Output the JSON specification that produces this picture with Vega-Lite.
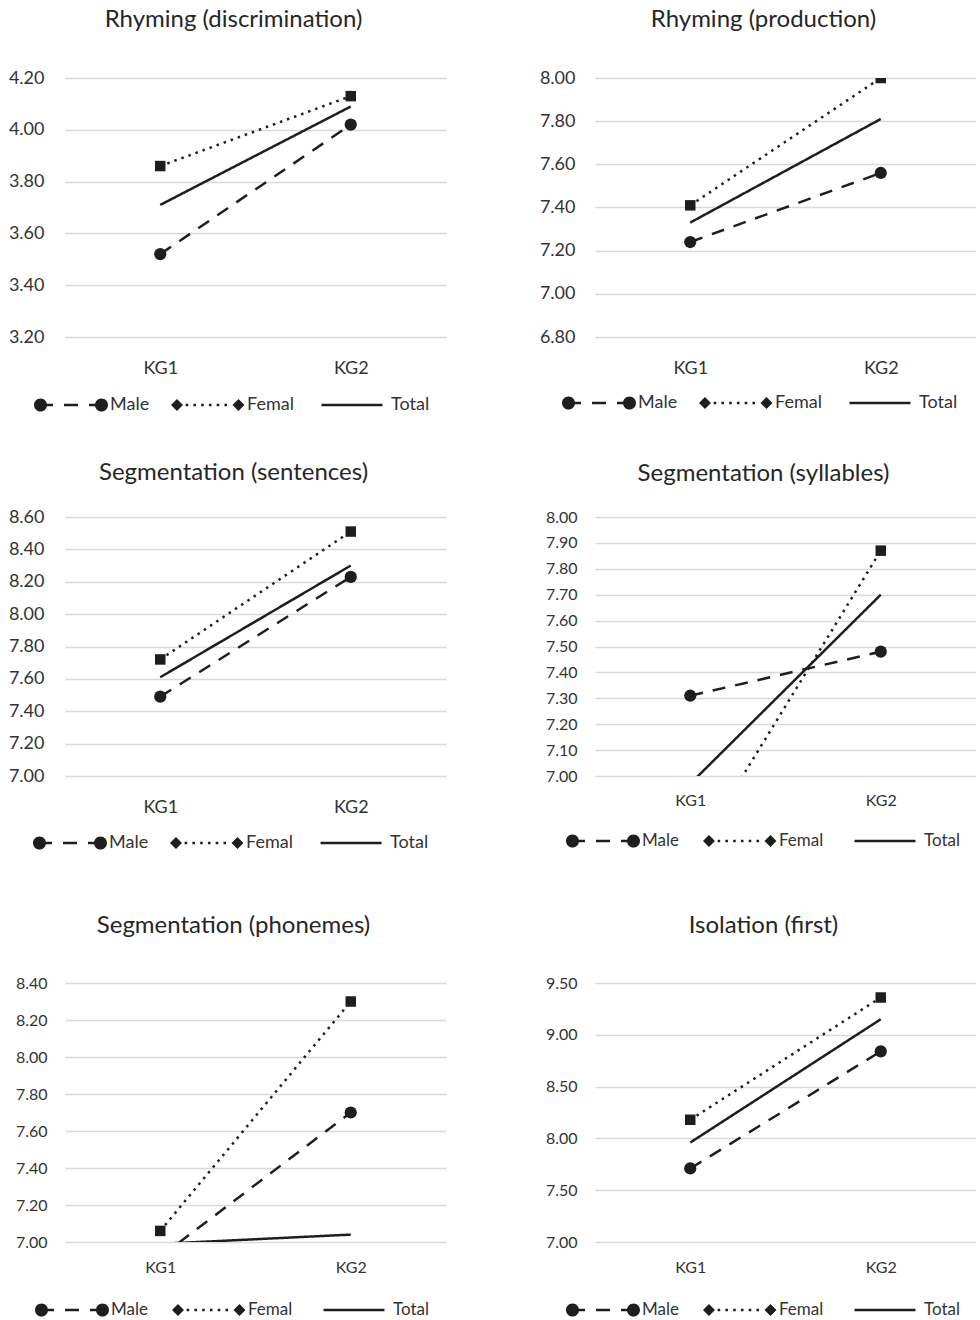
{
  "$schema": "https://vega.github.io/schema/vega-lite/v6.json",
  "padding": {"left": 8, "top": 8, "right": 0, "bottom": 0},
  "background": "white",
  "config": {
    "view": {"stroke": null},
    "font": "Lato",
    "title": {"font": "Lato", "fontSize": 24, "fontWeight": "normal", "color": "#262626", "baseline": "alphabetic", "dx": -22},
    "axis": {"labelFont": "Lato", "labelColor": "#333333", "gridColor": "#d9d9d9", "gridWidth": 1.3, "domain": false, "ticks": false, "title": null},
    "legend": {"labelFont": "Lato", "labelColor": "#333333"}
  },
  "datasets": {
    "d": [
      {"panel": "Rhyming (discrimination)", "grade": "KG1", "series": "Male", "value": 3.52},
      {"panel": "Rhyming (discrimination)", "grade": "KG2", "series": "Male", "value": 4.02},
      {"panel": "Rhyming (discrimination)", "grade": "KG1", "series": "Femal", "value": 3.86},
      {"panel": "Rhyming (discrimination)", "grade": "KG2", "series": "Femal", "value": 4.13},
      {"panel": "Rhyming (discrimination)", "grade": "KG1", "series": "Total", "value": 3.71},
      {"panel": "Rhyming (discrimination)", "grade": "KG2", "series": "Total", "value": 4.09},
      {"panel": "Rhyming (production)", "grade": "KG1", "series": "Male", "value": 7.24},
      {"panel": "Rhyming (production)", "grade": "KG2", "series": "Male", "value": 7.56},
      {"panel": "Rhyming (production)", "grade": "KG1", "series": "Femal", "value": 7.41},
      {"panel": "Rhyming (production)", "grade": "KG2", "series": "Femal", "value": 8.0},
      {"panel": "Rhyming (production)", "grade": "KG1", "series": "Total", "value": 7.33},
      {"panel": "Rhyming (production)", "grade": "KG2", "series": "Total", "value": 7.81},
      {"panel": "Segmentation (sentences)", "grade": "KG1", "series": "Male", "value": 7.49},
      {"panel": "Segmentation (sentences)", "grade": "KG2", "series": "Male", "value": 8.23},
      {"panel": "Segmentation (sentences)", "grade": "KG1", "series": "Femal", "value": 7.72},
      {"panel": "Segmentation (sentences)", "grade": "KG2", "series": "Femal", "value": 8.51},
      {"panel": "Segmentation (sentences)", "grade": "KG1", "series": "Total", "value": 7.61},
      {"panel": "Segmentation (sentences)", "grade": "KG2", "series": "Total", "value": 8.3},
      {"panel": "Segmentation (syllables)", "grade": "KG1", "series": "Male", "value": 7.31},
      {"panel": "Segmentation (syllables)", "grade": "KG2", "series": "Male", "value": 7.48},
      {"panel": "Segmentation (syllables)", "grade": "KG1", "series": "Femal", "value": 6.67},
      {"panel": "Segmentation (syllables)", "grade": "KG2", "series": "Femal", "value": 7.87},
      {"panel": "Segmentation (syllables)", "grade": "KG1", "series": "Total", "value": 6.97},
      {"panel": "Segmentation (syllables)", "grade": "KG2", "series": "Total", "value": 7.7},
      {"panel": "Segmentation (phonemes)", "grade": "KG1", "series": "Male", "value": 6.92},
      {"panel": "Segmentation (phonemes)", "grade": "KG2", "series": "Male", "value": 7.7},
      {"panel": "Segmentation (phonemes)", "grade": "KG1", "series": "Femal", "value": 7.06},
      {"panel": "Segmentation (phonemes)", "grade": "KG2", "series": "Femal", "value": 8.3},
      {"panel": "Segmentation (phonemes)", "grade": "KG1", "series": "Total", "value": 6.99},
      {"panel": "Segmentation (phonemes)", "grade": "KG2", "series": "Total", "value": 7.04},
      {"panel": "Isolation (first)", "grade": "KG1", "series": "Male", "value": 7.71},
      {"panel": "Isolation (first)", "grade": "KG2", "series": "Male", "value": 8.84},
      {"panel": "Isolation (first)", "grade": "KG1", "series": "Femal", "value": 8.18},
      {"panel": "Isolation (first)", "grade": "KG2", "series": "Femal", "value": 9.36},
      {"panel": "Isolation (first)", "grade": "KG1", "series": "Total", "value": 7.96},
      {"panel": "Isolation (first)", "grade": "KG2", "series": "Total", "value": 9.15}
    ]
  },
  "resolve": {"scale": {"shape": "independent", "strokeDash": "independent"}, "legend": {"shape": "independent", "strokeDash": "independent"}},
  "spacing": 439,
  "bounds": "flush",
  "vconcat": [
    {
      "hconcat": [
        {
          "title": {"text": "Rhyming (discrimination)", "offset": 37},
          "width": 381, "height": 259,
          "data": {"name": "d"},
          "transform": [{"filter": "datum.panel == 'Rhyming (discrimination)'"}],
          "encoding": {
            "x": {"field": "grade", "type": "nominal", "scale": {"type": "point", "padding": 0.5, "domain": ["KG1", "KG2"]}, "axis": {"labelAngle": 0, "labelPadding": 22, "labelFontSize": 18, "grid": false}},
            "y": {"field": "value", "type": "quantitative", "scale": {"domain": [3.2, 4.2], "nice": false, "zero": false}, "axis": {"values": [3.2, 3.4, 3.6, 3.8, 4.0, 4.2], "format": ".2f", "labelPadding": 21, "labelFontSize": 18}}
          },
          "layer": [
            {"transform": [{"filter": "datum.series == 'none'"}], "mark": {"type": "point", "filled": true, "opacity": 1, "color": "#1e1e1e"},
             "encoding": {"shape": {"field": "series", "type": "nominal", "scale": {"domain": ["Male", "Femal", "Total"], "range": [
               "M-1,0C-1,-0.0972,-0.9212,-0.176,-0.824,-0.176C-0.7268,-0.176,-0.648,-0.0972,-0.648,0C-0.648,0.0972,-0.7268,0.176,-0.824,0.176C-0.9212,0.176,-1,0.0972,-1,0ZM-0.824,-0.034H-0.486V0.034H-0.824ZM-0.189,-0.034H0.189V0.034H-0.189ZM0.486,-0.034H0.824V0.034H0.486ZM0.648,0C0.648,-0.0972,0.7268,-0.176,0.824,-0.176C0.9212,-0.176,1,-0.0972,1,0C1,0.0972,0.9212,0.176,0.824,0.176C0.7268,0.176,0.648,0.0972,0.648,0Z",
               "M-1,0L-0.838,-0.162L-0.676,0L-0.838,0.162ZM0.662,0L0.824,-0.162L0.986,0L0.824,0.162ZM-0.605,-0.035h0.07v0.07h-0.07ZM-0.395,-0.035h0.07v0.07h-0.07ZM-0.185,-0.035h0.07v0.07h-0.07ZM0.025,-0.035h0.07v0.07h-0.07ZM0.235,-0.035h0.07v0.07h-0.07ZM0.445,-0.035h0.07v0.07h-0.07Z",
               "M-0.824,-0.034H0.824V0.034H-0.824Z"]},
               "legend": {"orient": "none", "legendX": -31, "legendY": 290, "direction": "horizontal", "title": null, "symbolSize": 5476, "labelFontSize": 18, "labelOffset": 2, "columnPadding": 21, "symbolStrokeWidth": 0, "symbolFillColor": "#1e1e1e", "symbolOpacity": 1, "padding": 0}}}},
            {"mark": {"type": "line", "clip": true, "color": "#1e1e1e", "strokeWidth": 2.5}, "encoding": {"strokeDash": {"field": "series", "type": "nominal", "scale": {"domain": ["Male", "Femal", "Total"], "range": [[13, 10], [2.5, 5], [1, 0]]}, "legend": null}}},
            {"transform": [{"filter": "datum.series == 'Male'"}], "mark": {"type": "point", "shape": "circle", "size": 150, "filled": true, "opacity": 1, "clip": true, "color": "#1e1e1e"}},
            {"transform": [{"filter": "datum.series == 'Femal'"}], "mark": {"type": "point", "shape": "square", "size": 110, "filled": true, "opacity": 1, "clip": true, "color": "#1e1e1e"}}
          ]
        },
        {
          "title": {"text": "Rhyming (production)", "offset": 37},
          "width": 381, "height": 259,
          "data": {"name": "d"},
          "transform": [{"filter": "datum.panel == 'Rhyming (production)'"}],
          "encoding": {
            "x": {"field": "grade", "type": "nominal", "scale": {"type": "point", "padding": 0.5, "domain": ["KG1", "KG2"]}, "axis": {"labelAngle": 0, "labelPadding": 22, "labelFontSize": 18, "grid": false}},
            "y": {"field": "value", "type": "quantitative", "scale": {"domain": [6.8, 8.0], "nice": false, "zero": false}, "axis": {"values": [6.8, 7.0, 7.2, 7.4, 7.6, 7.8, 8.0], "format": ".2f", "labelPadding": 20, "labelFontSize": 18}}
          },
          "layer": [
            {"transform": [{"filter": "datum.series == 'none'"}], "mark": {"type": "point", "filled": true, "opacity": 1, "color": "#1e1e1e"},
             "encoding": {"shape": {"field": "series", "type": "nominal", "scale": {"domain": ["Male", "Femal", "Total"], "range": [
               "M-1,0C-1,-0.0972,-0.9212,-0.176,-0.824,-0.176C-0.7268,-0.176,-0.648,-0.0972,-0.648,0C-0.648,0.0972,-0.7268,0.176,-0.824,0.176C-0.9212,0.176,-1,0.0972,-1,0ZM-0.824,-0.034H-0.486V0.034H-0.824ZM-0.189,-0.034H0.189V0.034H-0.189ZM0.486,-0.034H0.824V0.034H0.486ZM0.648,0C0.648,-0.0972,0.7268,-0.176,0.824,-0.176C0.9212,-0.176,1,-0.0972,1,0C1,0.0972,0.9212,0.176,0.824,0.176C0.7268,0.176,0.648,0.0972,0.648,0Z",
               "M-1,0L-0.838,-0.162L-0.676,0L-0.838,0.162ZM0.662,0L0.824,-0.162L0.986,0L0.824,0.162ZM-0.605,-0.035h0.07v0.07h-0.07ZM-0.395,-0.035h0.07v0.07h-0.07ZM-0.185,-0.035h0.07v0.07h-0.07ZM0.025,-0.035h0.07v0.07h-0.07ZM0.235,-0.035h0.07v0.07h-0.07ZM0.445,-0.035h0.07v0.07h-0.07Z",
               "M-0.824,-0.034H0.824V0.034H-0.824Z"]},
               "legend": {"orient": "none", "legendX": -33, "legendY": 288, "direction": "horizontal", "title": null, "symbolSize": 5476, "labelFontSize": 18, "labelOffset": 2, "columnPadding": 21, "symbolStrokeWidth": 0, "symbolFillColor": "#1e1e1e", "symbolOpacity": 1, "padding": 0}}}},
            {"mark": {"type": "line", "clip": true, "color": "#1e1e1e", "strokeWidth": 2.5}, "encoding": {"strokeDash": {"field": "series", "type": "nominal", "scale": {"domain": ["Male", "Femal", "Total"], "range": [[13, 10], [2.5, 5], [1, 0]]}, "legend": null}}},
            {"transform": [{"filter": "datum.series == 'Male'"}], "mark": {"type": "point", "shape": "circle", "size": 150, "filled": true, "opacity": 1, "clip": true, "color": "#1e1e1e"}},
            {"transform": [{"filter": "datum.series == 'Femal'"}], "mark": {"type": "point", "shape": "square", "size": 110, "filled": true, "opacity": 1, "clip": true, "color": "#1e1e1e"}}
          ]
        }
      ],
      "spacing": 149, "bounds": "flush",
      "resolve": {"scale": {"shape": "independent", "strokeDash": "independent"}, "legend": {"shape": "independent", "strokeDash": "independent"}}
    },
    {
      "vconcat": [
        {
          "hconcat": [
            {
              "title": {"text": "Segmentation (sentences)", "offset": 23},
              "width": 381, "height": 259,
              "data": {"name": "d"},
              "transform": [{"filter": "datum.panel == 'Segmentation (sentences)'"}],
              "encoding": {
                "x": {"field": "grade", "type": "nominal", "scale": {"type": "point", "padding": 0.5, "domain": ["KG1", "KG2"]}, "axis": {"labelAngle": 0, "labelPadding": 22, "labelFontSize": 18, "grid": false}},
                "y": {"field": "value", "type": "quantitative", "scale": {"domain": [7.0, 8.6], "nice": false, "zero": false}, "axis": {"values": [7.0, 7.2, 7.4, 7.6, 7.8, 8.0, 8.2, 8.4, 8.6], "format": ".2f", "labelPadding": 21, "labelFontSize": 18}}
              },
              "layer": [
                {"transform": [{"filter": "datum.series == 'none'"}], "mark": {"type": "point", "filled": true, "opacity": 1, "color": "#1e1e1e"},
                 "encoding": {"shape": {"field": "series", "type": "nominal", "scale": {"domain": ["Male", "Femal", "Total"], "range": [
                   "M-1,0C-1,-0.0972,-0.9212,-0.176,-0.824,-0.176C-0.7268,-0.176,-0.648,-0.0972,-0.648,0C-0.648,0.0972,-0.7268,0.176,-0.824,0.176C-0.9212,0.176,-1,0.0972,-1,0ZM-0.824,-0.034H-0.486V0.034H-0.824ZM-0.189,-0.034H0.189V0.034H-0.189ZM0.486,-0.034H0.824V0.034H0.486ZM0.648,0C0.648,-0.0972,0.7268,-0.176,0.824,-0.176C0.9212,-0.176,1,-0.0972,1,0C1,0.0972,0.9212,0.176,0.824,0.176C0.7268,0.176,0.648,0.0972,0.648,0Z",
                   "M-1,0L-0.838,-0.162L-0.676,0L-0.838,0.162ZM0.662,0L0.824,-0.162L0.986,0L0.824,0.162ZM-0.605,-0.035h0.07v0.07h-0.07ZM-0.395,-0.035h0.07v0.07h-0.07ZM-0.185,-0.035h0.07v0.07h-0.07ZM0.025,-0.035h0.07v0.07h-0.07ZM0.235,-0.035h0.07v0.07h-0.07ZM0.445,-0.035h0.07v0.07h-0.07Z",
                   "M-0.824,-0.034H0.824V0.034H-0.824Z"]},
                   "legend": {"orient": "none", "legendX": -32, "legendY": 289, "direction": "horizontal", "title": null, "symbolSize": 5476, "labelFontSize": 18, "labelOffset": 2, "columnPadding": 21, "symbolStrokeWidth": 0, "symbolFillColor": "#1e1e1e", "symbolOpacity": 1, "padding": 0}}}},
                {"mark": {"type": "line", "clip": true, "color": "#1e1e1e", "strokeWidth": 2.5}, "encoding": {"strokeDash": {"field": "series", "type": "nominal", "scale": {"domain": ["Male", "Femal", "Total"], "range": [[13, 10], [2.5, 5], [1, 0]]}, "legend": null}}},
                {"transform": [{"filter": "datum.series == 'Male'"}], "mark": {"type": "point", "shape": "circle", "size": 150, "filled": true, "opacity": 1, "clip": true, "color": "#1e1e1e"}},
                {"transform": [{"filter": "datum.series == 'Femal'"}], "mark": {"type": "point", "shape": "square", "size": 110, "filled": true, "opacity": 1, "clip": true, "color": "#1e1e1e"}}
              ]
            },
            {
              "title": {"text": "Segmentation (syllables)", "offset": 23},
              "width": 381, "height": 259,
              "data": {"name": "d"},
              "transform": [{"filter": "datum.panel == 'Segmentation (syllables)'"}],
              "encoding": {
                "x": {"field": "grade", "type": "nominal", "scale": {"type": "point", "padding": 0.5, "domain": ["KG1", "KG2"]}, "axis": {"labelAngle": 0, "labelPadding": 16, "labelFontSize": 16, "grid": false}},
                "y": {"field": "value", "type": "quantitative", "scale": {"domain": [7.0, 8.0], "nice": false, "zero": false}, "axis": {"values": [7.0, 7.1, 7.2, 7.3, 7.4, 7.5, 7.6, 7.7, 7.8, 7.9, 8.0], "format": ".2f", "labelPadding": 18, "labelFontSize": 16}}
              },
              "layer": [
                {"transform": [{"filter": "datum.series == 'none'"}], "mark": {"type": "point", "filled": true, "opacity": 1, "color": "#1e1e1e"},
                 "encoding": {"shape": {"field": "series", "type": "nominal", "scale": {"domain": ["Male", "Femal", "Total"], "range": [
                   "M-1,0C-1,-0.0972,-0.9212,-0.176,-0.824,-0.176C-0.7268,-0.176,-0.648,-0.0972,-0.648,0C-0.648,0.0972,-0.7268,0.176,-0.824,0.176C-0.9212,0.176,-1,0.0972,-1,0ZM-0.824,-0.034H-0.486V0.034H-0.824ZM-0.189,-0.034H0.189V0.034H-0.189ZM0.486,-0.034H0.824V0.034H0.486ZM0.648,0C0.648,-0.0972,0.7268,-0.176,0.824,-0.176C0.9212,-0.176,1,-0.0972,1,0C1,0.0972,0.9212,0.176,0.824,0.176C0.7268,0.176,0.648,0.0972,0.648,0Z",
                   "M-1,0L-0.838,-0.162L-0.676,0L-0.838,0.162ZM0.662,0L0.824,-0.162L0.986,0L0.824,0.162ZM-0.605,-0.035h0.07v0.07h-0.07ZM-0.395,-0.035h0.07v0.07h-0.07ZM-0.185,-0.035h0.07v0.07h-0.07ZM0.025,-0.035h0.07v0.07h-0.07ZM0.235,-0.035h0.07v0.07h-0.07ZM0.445,-0.035h0.07v0.07h-0.07Z",
                   "M-0.824,-0.034H0.824V0.034H-0.824Z"]},
                   "legend": {"orient": "none", "legendX": -29, "legendY": 287, "direction": "horizontal", "title": null, "symbolSize": 5476, "labelFontSize": 17, "labelOffset": 2, "columnPadding": 24, "symbolStrokeWidth": 0, "symbolFillColor": "#1e1e1e", "symbolOpacity": 1, "padding": 0}}}},
                {"mark": {"type": "line", "clip": true, "color": "#1e1e1e", "strokeWidth": 2.5}, "encoding": {"strokeDash": {"field": "series", "type": "nominal", "scale": {"domain": ["Male", "Femal", "Total"], "range": [[13, 10], [2.5, 5], [1, 0]]}, "legend": null}}},
                {"transform": [{"filter": "datum.series == 'Male'"}], "mark": {"type": "point", "shape": "circle", "size": 150, "filled": true, "opacity": 1, "clip": true, "color": "#1e1e1e"}},
                {"transform": [{"filter": "datum.series == 'Femal'"}], "mark": {"type": "point", "shape": "square", "size": 110, "filled": true, "opacity": 1, "clip": true, "color": "#1e1e1e"}}
              ]
            }
          ],
          "spacing": 149, "bounds": "flush",
          "resolve": {"scale": {"shape": "independent", "strokeDash": "independent"}, "legend": {"shape": "independent", "strokeDash": "independent"}}
        },
        {
          "hconcat": [
            {
              "title": {"text": "Segmentation (phonemes)", "offset": 37},
              "width": 381, "height": 259,
              "data": {"name": "d"},
              "transform": [{"filter": "datum.panel == 'Segmentation (phonemes)'"}],
              "encoding": {
                "x": {"field": "grade", "type": "nominal", "scale": {"type": "point", "padding": 0.5, "domain": ["KG1", "KG2"]}, "axis": {"labelAngle": 0, "labelPadding": 17, "labelFontSize": 16, "grid": false}},
                "y": {"field": "value", "type": "quantitative", "scale": {"domain": [7.0, 8.4], "nice": false, "zero": false}, "axis": {"values": [7.0, 7.2, 7.4, 7.6, 7.8, 8.0, 8.2, 8.4], "format": ".2f", "labelPadding": 18, "labelFontSize": 16}}
              },
              "layer": [
                {"transform": [{"filter": "datum.series == 'none'"}], "mark": {"type": "point", "filled": true, "opacity": 1, "color": "#1e1e1e"},
                 "encoding": {"shape": {"field": "series", "type": "nominal", "scale": {"domain": ["Male", "Femal", "Total"], "range": [
                   "M-1,0C-1,-0.0972,-0.9212,-0.176,-0.824,-0.176C-0.7268,-0.176,-0.648,-0.0972,-0.648,0C-0.648,0.0972,-0.7268,0.176,-0.824,0.176C-0.9212,0.176,-1,0.0972,-1,0ZM-0.824,-0.034H-0.486V0.034H-0.824ZM-0.189,-0.034H0.189V0.034H-0.189ZM0.486,-0.034H0.824V0.034H0.486ZM0.648,0C0.648,-0.0972,0.7268,-0.176,0.824,-0.176C0.9212,-0.176,1,-0.0972,1,0C1,0.0972,0.9212,0.176,0.824,0.176C0.7268,0.176,0.648,0.0972,0.648,0Z",
                   "M-1,0L-0.838,-0.162L-0.676,0L-0.838,0.162ZM0.662,0L0.824,-0.162L0.986,0L0.824,0.162ZM-0.605,-0.035h0.07v0.07h-0.07ZM-0.395,-0.035h0.07v0.07h-0.07ZM-0.185,-0.035h0.07v0.07h-0.07ZM0.025,-0.035h0.07v0.07h-0.07ZM0.235,-0.035h0.07v0.07h-0.07ZM0.445,-0.035h0.07v0.07h-0.07Z",
                   "M-0.824,-0.034H0.824V0.034H-0.824Z"]},
                   "legend": {"orient": "none", "legendX": -30, "legendY": 290, "direction": "horizontal", "title": null, "symbolSize": 5476, "labelFontSize": 17, "labelOffset": 2, "columnPadding": 24, "symbolStrokeWidth": 0, "symbolFillColor": "#1e1e1e", "symbolOpacity": 1, "padding": 0}}}},
                {"mark": {"type": "line", "clip": true, "color": "#1e1e1e", "strokeWidth": 2.5}, "encoding": {"strokeDash": {"field": "series", "type": "nominal", "scale": {"domain": ["Male", "Femal", "Total"], "range": [[13, 10], [2.5, 5], [1, 0]]}, "legend": null}}},
                {"transform": [{"filter": "datum.series == 'Male'"}], "mark": {"type": "point", "shape": "circle", "size": 150, "filled": true, "opacity": 1, "clip": true, "color": "#1e1e1e"}},
                {"transform": [{"filter": "datum.series == 'Femal'"}], "mark": {"type": "point", "shape": "square", "size": 110, "filled": true, "opacity": 1, "clip": true, "color": "#1e1e1e"}}
              ]
            },
            {
              "title": {"text": "Isolation (first)", "offset": 37},
              "width": 381, "height": 259,
              "data": {"name": "d"},
              "transform": [{"filter": "datum.panel == 'Isolation (first)'"}],
              "encoding": {
                "x": {"field": "grade", "type": "nominal", "scale": {"type": "point", "padding": 0.5, "domain": ["KG1", "KG2"]}, "axis": {"labelAngle": 0, "labelPadding": 17, "labelFontSize": 16, "grid": false}},
                "y": {"field": "value", "type": "quantitative", "scale": {"domain": [7.0, 9.5], "nice": false, "zero": false}, "axis": {"values": [7.0, 7.5, 8.0, 8.5, 9.0, 9.5], "format": ".2f", "labelPadding": 18, "labelFontSize": 16}}
              },
              "layer": [
                {"transform": [{"filter": "datum.series == 'none'"}], "mark": {"type": "point", "filled": true, "opacity": 1, "color": "#1e1e1e"},
                 "encoding": {"shape": {"field": "series", "type": "nominal", "scale": {"domain": ["Male", "Femal", "Total"], "range": [
                   "M-1,0C-1,-0.0972,-0.9212,-0.176,-0.824,-0.176C-0.7268,-0.176,-0.648,-0.0972,-0.648,0C-0.648,0.0972,-0.7268,0.176,-0.824,0.176C-0.9212,0.176,-1,0.0972,-1,0ZM-0.824,-0.034H-0.486V0.034H-0.824ZM-0.189,-0.034H0.189V0.034H-0.189ZM0.486,-0.034H0.824V0.034H0.486ZM0.648,0C0.648,-0.0972,0.7268,-0.176,0.824,-0.176C0.9212,-0.176,1,-0.0972,1,0C1,0.0972,0.9212,0.176,0.824,0.176C0.7268,0.176,0.648,0.0972,0.648,0Z",
                   "M-1,0L-0.838,-0.162L-0.676,0L-0.838,0.162ZM0.662,0L0.824,-0.162L0.986,0L0.824,0.162ZM-0.605,-0.035h0.07v0.07h-0.07ZM-0.395,-0.035h0.07v0.07h-0.07ZM-0.185,-0.035h0.07v0.07h-0.07ZM0.025,-0.035h0.07v0.07h-0.07ZM0.235,-0.035h0.07v0.07h-0.07ZM0.445,-0.035h0.07v0.07h-0.07Z",
                   "M-0.824,-0.034H0.824V0.034H-0.824Z"]},
                   "legend": {"orient": "none", "legendX": -29, "legendY": 290, "direction": "horizontal", "title": null, "symbolSize": 5476, "labelFontSize": 17, "labelOffset": 2, "columnPadding": 24, "symbolStrokeWidth": 0, "symbolFillColor": "#1e1e1e", "symbolOpacity": 1, "padding": 0}}}},
                {"mark": {"type": "line", "clip": true, "color": "#1e1e1e", "strokeWidth": 2.5}, "encoding": {"strokeDash": {"field": "series", "type": "nominal", "scale": {"domain": ["Male", "Femal", "Total"], "range": [[13, 10], [2.5, 5], [1, 0]]}, "legend": null}}},
                {"transform": [{"filter": "datum.series == 'Male'"}], "mark": {"type": "point", "shape": "circle", "size": 150, "filled": true, "opacity": 1, "clip": true, "color": "#1e1e1e"}},
                {"transform": [{"filter": "datum.series == 'Femal'"}], "mark": {"type": "point", "shape": "square", "size": 110, "filled": true, "opacity": 1, "clip": true, "color": "#1e1e1e"}}
              ]
            }
          ],
          "spacing": 149, "bounds": "flush",
          "resolve": {"scale": {"shape": "independent", "strokeDash": "independent"}, "legend": {"shape": "independent", "strokeDash": "independent"}}
        }
      ],
      "spacing": 466, "bounds": "flush",
      "resolve": {"scale": {"shape": "independent", "strokeDash": "independent"}, "legend": {"shape": "independent", "strokeDash": "independent"}}
    }
  ]
}
